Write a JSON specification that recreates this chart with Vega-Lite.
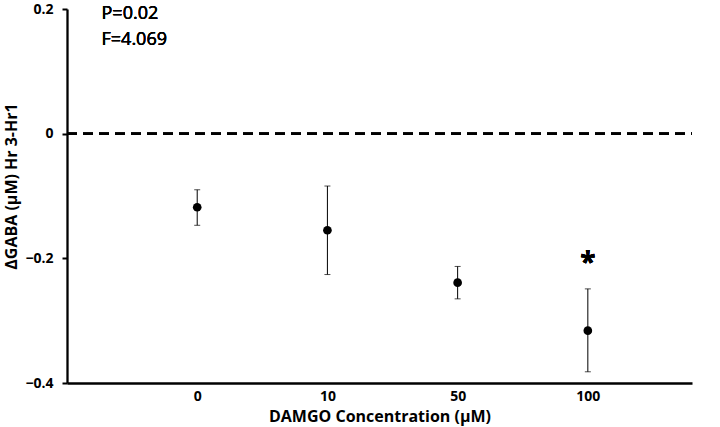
{
  "$schema": "https://vega.github.io/schema/vega-lite/v6.json",
  "width": 625,
  "height": 374,
  "autosize": "none",
  "padding": {"left": 67, "top": 9, "right": 28, "bottom": 44},
  "background": "white",
  "config": {"view": {"stroke": null}, "font": "Open Sans"},
  "data": {
    "values": [
      {"idx": 1, "conc": "0", "mean": -0.118, "lo": -0.147, "hi": -0.090},
      {"idx": 2, "conc": "10", "mean": -0.155, "lo": -0.226, "hi": -0.084},
      {"idx": 3, "conc": "50", "mean": -0.239, "lo": -0.265, "hi": -0.213},
      {"idx": 4, "conc": "100", "mean": -0.316, "lo": -0.382, "hi": -0.249}
    ]
  },
  "encoding": {
    "x": {
      "field": "idx",
      "type": "quantitative",
      "scale": {"domain": [0, 4.8], "nice": false, "zero": false},
      "axis": {
        "values": [1, 2, 3, 4],
        "labelExpr": "datum.value == 1 ? '0' : datum.value == 2 ? '10' : datum.value == 3 ? '50' : '100'",
        "title": "DAMGO Concentration (μM)",
        "titleFontSize": 16,
        "titleFontWeight": "bold",
        "titleColor": "black",
        "titlePadding": 5,
        "labelFontSize": 14,
        "labelFontWeight": "bold",
        "labelColor": "black",
        "labelPadding": 6,
        "ticks": false,
        "grid": false,
        "domainColor": "black",
        "domainWidth": 2.3
      }
    }
  },
  "layer": [
    {
      "mark": {"type": "rule", "strokeDash": [10, 6], "strokeWidth": 2.3, "color": "black"},
      "encoding": {"y": {"datum": 0}, "x": {"datum": 0}, "x2": {"datum": 4.8}}
    },
    {
      "mark": {"type": "rule", "color": "black", "strokeWidth": 1},
      "encoding": {
        "y": {
          "field": "lo",
          "type": "quantitative",
          "scale": {"domain": [-0.4, 0.2], "nice": false},
          "axis": {
            "values": [-0.4, -0.2, 0, 0.2],
            "labelExpr": "datum.value == 0 ? '0' : format(datum.value, '.1f')",
            "title": "ΔGABA (μM) Hr 3-Hr1",
            "titleFontSize": 16,
            "titleFontWeight": "bold",
            "titleColor": "black",
            "titlePadding": 5,
            "titleY": 177,
            "labelFontSize": 14,
            "labelFontWeight": "bold",
            "labelColor": "black",
            "labelPadding": 9,
            "tickSize": 5,
            "tickColor": "black",
            "tickWidth": 2,
            "grid": false,
            "domainColor": "black",
            "domainWidth": 2.3
          }
        },
        "y2": {"field": "hi"}
      }
    },
    {
      "mark": {"type": "tick", "color": "black", "thickness": 1, "size": 6, "orient": "horizontal"},
      "encoding": {"y": {"field": "lo", "type": "quantitative"}}
    },
    {
      "mark": {"type": "tick", "color": "black", "thickness": 1, "size": 6, "orient": "horizontal"},
      "encoding": {"y": {"field": "hi", "type": "quantitative"}}
    },
    {
      "mark": {"type": "point", "filled": true, "color": "black", "size": 75, "opacity": 1},
      "encoding": {"y": {"field": "mean", "type": "quantitative"}}
    },
    {
      "mark": {"type": "text", "text": "*", "fontSize": 28, "fontWeight": "bold", "color": "black", "baseline": "middle", "dy": 6},
      "encoding": {"x": {"datum": 4}, "y": {"datum": -0.2}}
    },
    {
      "mark": {"type": "text", "text": "P=0.02", "fontSize": 18, "color": "black", "align": "left", "baseline": "middle"},
      "encoding": {"x": {"datum": 0.265}, "y": {"datum": 0.192}}
    },
    {
      "mark": {"type": "text", "text": "F=4.069", "fontSize": 18, "color": "black", "align": "left", "baseline": "middle"},
      "encoding": {"x": {"datum": 0.265}, "y": {"datum": 0.151}}
    }
  ]
}
